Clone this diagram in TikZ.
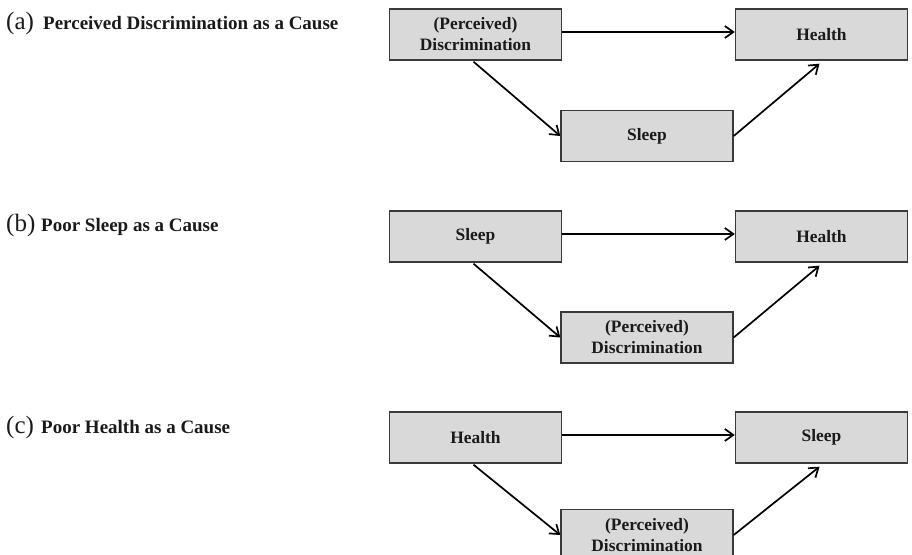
\documentclass[tikz,border=0pt]{standalone}
\usepackage{fontspec}
\setmainfont{Liberation Serif}
\usetikzlibrary{arrows.meta}
\definecolor{boxfill}{HTML}{D9D9D9}
\definecolor{boxline}{HTML}{3A3A3A}
\definecolor{txt}{HTML}{1A1A1A}
\begin{document}
\begin{tikzpicture}[x=1pt,y=-1pt,
  box/.style={draw=boxline, line width=1.4pt, fill=boxfill, minimum width=172pt, minimum height=51pt,
    inner sep=0pt, align=center, text=txt, font=\fontsize{17.4}{21}\selectfont\bfseries},
  arr/.style={line width=1.7pt, -{Straight Barb[length=8.5pt,width=12pt,line width=1.7pt]}},
  ttl/.style={anchor=base west, inner sep=0pt, text=txt, font=\fontsize{19}{22}\selectfont\bfseries},
  lbl/.style={anchor=base west, inner sep=0pt, text=txt, font=\fontsize{25}{28}\selectfont}]
\useasboundingbox (0,0) rectangle (912,554);
\clip (0,0) rectangle (912,554);

% Panel (a)
\node[lbl] (la) at (6,29) {(a)};
\node[ttl] (ta) at (43,29) {Perceived Discrimination as a Cause};
\node[box] (a1) at (475.5,34.5) {(Perceived)\\Discrimination};
\node[box] (a2) at (821.5,34.5) {Health};
\node[box] (a3) at (647,136) {Sleep};
\draw[arr] ([yshift=2.5pt]a1.east) -- ([yshift=2.5pt]a2.west);
\draw[arr] ([xshift=-2pt,yshift=-1pt]a1.south) -- (a3.west);
\draw[arr] (a3.east) -- ([xshift=-2pt,yshift=-3pt]a2.south);

% Panel (b)
\node[lbl] (lb) at (6,231) {(b)};
\node[ttl] (tb) at (41,231) {Poor Sleep as a Cause};
\node[box] (b1) at (475.5,236.5) {Sleep};
\node[box] (b2) at (821.5,236.5) {Health};
\node[box] (b3) at (647,337.5) {(Perceived)\\Discrimination};
\draw[arr] ([yshift=2.5pt]b1.east) -- ([yshift=2.5pt]b2.west);
\draw[arr] ([xshift=-2pt,yshift=-1pt]b1.south) -- (b3.west);
\draw[arr] (b3.east) -- ([xshift=-2pt,yshift=-3pt]b2.south);

% Panel (c)
\node[lbl] (lc) at (6,433) {(c)};
\node[ttl] (tc) at (41,433) {Poor Health as a Cause};
\node[box] (c1) at (475.5,437.5) {Health};
\node[box] (c2) at (821.5,437.5) {Sleep};
\node[box] (c3) at (647,535) {(Perceived)\\Discrimination};
\draw[arr] ([yshift=2.5pt]c1.east) -- ([yshift=2.5pt]c2.west);
\draw[arr] ([xshift=-2pt,yshift=-1pt]c1.south) -- (c3.west);
\draw[arr] (c3.east) -- ([xshift=-2pt,yshift=-3pt]c2.south);
\end{tikzpicture}
\end{document}
